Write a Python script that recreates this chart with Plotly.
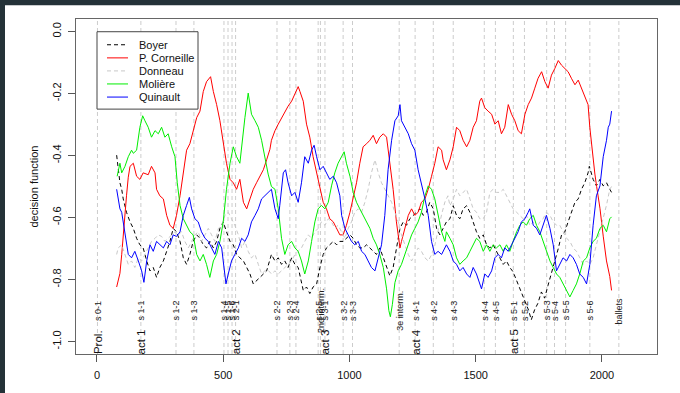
import plotly.graph_objects as go

# ---------------- data ----------------
boyer = [(78,-0.399),(84,-0.435),(91,-0.488),(98,-0.509),(104,-0.540),(117,-0.583),(131,-0.614),(144,-0.635),(157,-0.667),(170,-0.688),(183,-0.698),(197,-0.740),(210,-0.772),(223,-0.761),(236,-0.793),(249,-0.761),(263,-0.740),(276,-0.709),(289,-0.677),(302,-0.635),(315,-0.646),(329,-0.677),(342,-0.730),(355,-0.751),(368,-0.719),(381,-0.677),(395,-0.656),(408,-0.667),(421,-0.688),(434,-0.698),(447,-0.677),(461,-0.698),(474,-0.677),(487,-0.635),(500,-0.614),(513,-0.646),(527,-0.677),(540,-0.688),(553,-0.719),(566,-0.730),(580,-0.740),(593,-0.761),(606,-0.782),(619,-0.814),(632,-0.803),(645,-0.793),(659,-0.782),(672,-0.772),
         (691,-0.719),(705,-0.740),(718,-0.730),(731,-0.751),(744,-0.740),(757,-0.761),(771,-0.730),(784,-0.751),(797,-0.761),(810,-0.803),(817,-0.835),(830,-0.824),(843,-0.845),(856,-0.824),(870,-0.814),(883,-0.761),(896,-0.719),(909,-0.698),(922,-0.688),(936,-0.677),(949,-0.688),(962,-0.677),(975,-0.677),(988,-0.667),(1002,-0.656),(1015,-0.667),(1028,-0.688),(1041,-0.698),(1054,-0.698),(1068,-0.688),(1081,-0.698),(1094,-0.709),(1107,-0.719),(1120,-0.698),(1134,-0.730),(1147,-0.761),(1160,-0.788),(1173,-0.761),(1186,-0.698),(1200,-0.635),(1213,-0.614),(1226,-0.625),(1239,-0.604),(1252,-0.593),(1266,-0.583),(1279,-0.572),(1292,-0.593),(1305,-0.583),(1318,-0.551),(1332,-0.572),(1345,-0.635),(1358,-0.656),(1371,-0.635),
         (1384,-0.614),(1398,-0.604),(1411,-0.562),(1424,-0.593),(1437,-0.604),(1450,-0.572),(1464,-0.562),(1477,-0.583),(1490,-0.614),(1503,-0.646),(1516,-0.667),(1530,-0.656),(1543,-0.688),(1556,-0.698),(1569,-0.688),(1582,-0.709),(1596,-0.730),(1609,-0.751),(1622,-0.740),(1635,-0.761),(1648,-0.775),(1662,-0.805),(1675,-0.830),(1688,-0.856),(1700,-0.880),(1710,-0.900),(1720,-0.930),(1733,-0.898),(1746,-0.877),(1760,-0.840),(1773,-0.860),(1786,-0.820),(1800,-0.780),(1813,-0.740),(1827,-0.700),(1840,-0.656),(1853,-0.646),(1866,-0.614),(1879,-0.583),(1893,-0.551),(1906,-0.540),(1919,-0.509),(1932,-0.488),(1945,-0.456),(1950,-0.435),(1965,-0.477),(1978,-0.498),(1992,-0.477),(2005,-0.498),(2018,-0.488),(2031,-0.509),(2038,-0.519)]

corneille = [(78,-0.824),(84,-0.800),(91,-0.780),(98,-0.720),(104,-0.650),(111,-0.580),(117,-0.530),(124,-0.470),(131,-0.435),(144,-0.425),(157,-0.467),(170,-0.477),(183,-0.456),(203,-0.462),(216,-0.435),(230,-0.456),(236,-0.509),(249,-0.530),(263,-0.540),(276,-0.593),(289,-0.625),(302,-0.635),(315,-0.593),(329,-0.530),(342,-0.456),(355,-0.383),(368,-0.362),(381,-0.320),(395,-0.278),(408,-0.257),(421,-0.194),(434,-0.162),(450,-0.146),(461,-0.194),(474,-0.236),(487,-0.288),(500,-0.362),(513,-0.425),(527,-0.477),(540,-0.488),(553,-0.509),(566,-0.477),(580,-0.551),(593,-0.572),(606,-0.540),(619,-0.509),(632,-0.488),(645,-0.467),(659,-0.446),(672,-0.414),(685,-0.380),
             (691,-0.351),(705,-0.320),(718,-0.299),(731,-0.278),(744,-0.257),(757,-0.241),(771,-0.225),(784,-0.204),(797,-0.178),(804,-0.194),(817,-0.225),(830,-0.299),(843,-0.341),(856,-0.404),(870,-0.456),(883,-0.509),(896,-0.551),(909,-0.572),(922,-0.604),(936,-0.614),(949,-0.635),(962,-0.656),(975,-0.656),(988,-0.625),(1002,-0.583),(1015,-0.540),(1028,-0.488),(1041,-0.425),(1054,-0.372),(1068,-0.362),(1081,-0.351),(1094,-0.335),(1107,-0.362),(1120,-0.341),(1134,-0.330),(1147,-0.341),(1160,-0.425),(1173,-0.509),(1186,-0.614),(1200,-0.698),(1206,-0.677),(1219,-0.635),(1233,-0.593),(1246,-0.572),(1259,-0.593),(1272,-0.583),(1285,-0.551),(1299,-0.540),(1312,-0.509),(1325,-0.467),(1338,-0.425),(1351,-0.372),(1365,-0.383),
             (1371,-0.414),(1384,-0.446),(1398,-0.414),(1411,-0.372),(1424,-0.309),(1437,-0.320),(1450,-0.351),(1464,-0.372),(1477,-0.351),(1490,-0.309),(1503,-0.288),(1516,-0.225),(1523,-0.215),(1536,-0.246),(1549,-0.257),(1563,-0.267),(1576,-0.299),(1589,-0.288),(1602,-0.330),(1615,-0.309),(1629,-0.236),(1642,-0.267),(1655,-0.288),(1668,-0.320),(1681,-0.330),(1695,-0.267),(1708,-0.236),(1721,-0.215),(1734,-0.183),(1747,-0.151),(1761,-0.130),(1774,-0.162),(1787,-0.183),(1800,-0.141),(1813,-0.120),(1827,-0.094),(1840,-0.109),(1853,-0.120),(1866,-0.130),(1879,-0.151),(1893,-0.172),(1906,-0.157),(1919,-0.183),(1932,-0.204),(1945,-0.236),(1952,-0.310),(1959,-0.370),(1965,-0.410),(1972,-0.460),(1979,-0.500),(1992,-0.570),(2005,-0.660),(2018,-0.740),(2031,-0.790),(2038,-0.835)]

donneau = [(78,-0.719),(84,-0.698),(98,-0.688),(111,-0.719),(124,-0.751),(137,-0.740),(150,-0.761),(164,-0.730),(177,-0.740),(190,-0.719),(203,-0.698),(216,-0.677),(230,-0.667),(243,-0.656),(256,-0.661),(269,-0.677),(282,-0.667),(296,-0.656),(309,-0.646),(322,-0.656),(335,-0.646),(348,-0.677),(362,-0.698),(375,-0.677),(388,-0.656),(401,-0.646),(414,-0.677),(428,-0.656),(441,-0.635),(454,-0.656),(467,-0.677),(481,-0.635),(494,-0.625),(507,-0.593),(520,-0.583),(533,-0.604),(546,-0.625),(560,-0.656),(573,-0.698),(586,-0.677),(599,-0.709),(612,-0.730),(626,-0.719),(639,-0.751),(652,-0.782),(665,-0.772),(678,-0.770),
           (691,-0.782),(705,-0.772),(718,-0.782),(731,-0.772),(744,-0.761),(757,-0.751),(771,-0.740),(784,-0.719),(797,-0.709),(810,-0.698),(823,-0.677),(837,-0.656),(850,-0.667),(863,-0.646),(876,-0.635),(889,-0.614),(903,-0.625),(916,-0.604),(929,-0.614),(942,-0.635),(955,-0.625),(969,-0.646),(982,-0.667),(995,-0.635),(1008,-0.614),(1021,-0.583),(1035,-0.572),(1048,-0.583),(1061,-0.551),(1074,-0.509),(1087,-0.456),(1101,-0.414),(1114,-0.456),(1127,-0.488),(1140,-0.509),(1153,-0.530),(1167,-0.551),(1180,-0.583),(1193,-0.614),(1206,-0.656),(1219,-0.688),(1233,-0.719),(1246,-0.740),(1259,-0.719),(1272,-0.698),(1285,-0.709),(1299,-0.730),(1312,-0.740),(1325,-0.720),(1338,-0.690),(1351,-0.640),(1365,-0.590),(1378,-0.550),
           (1390,-0.530),(1398,-0.562),(1411,-0.540),(1424,-0.509),(1437,-0.530),(1450,-0.519),(1464,-0.509),(1477,-0.540),(1490,-0.572),(1503,-0.583),(1516,-0.604),(1530,-0.604),(1543,-0.583),(1556,-0.519),(1569,-0.509),(1582,-0.519),(1596,-0.519),(1609,-0.509),(1622,-0.530),(1635,-0.551),(1648,-0.572),(1662,-0.583),(1675,-0.593),(1688,-0.604),(1701,-0.593),(1714,-0.625),(1728,-0.614),(1741,-0.635),(1754,-0.614),(1767,-0.604),(1780,-0.583),(1794,-0.593),(1807,-0.614),(1820,-0.625),(1833,-0.625),(1846,-0.646),(1860,-0.667),(1873,-0.677),(1886,-0.698),(1899,-0.709),(1912,-0.730),(1926,-0.751),(1939,-0.740),(1952,-0.751),(1965,-0.730),(1978,-0.688),(1992,-0.646),(2005,-0.604),(2018,-0.560),(2031,-0.509),(2038,-0.500)]

moliere = [(80,-0.467),(91,-0.425),(98,-0.456),(111,-0.435),(124,-0.404),(137,-0.383),(144,-0.393),(157,-0.383),(170,-0.309),(181,-0.272),(190,-0.288),(203,-0.309),(216,-0.341),(230,-0.320),(243,-0.330),(256,-0.309),(269,-0.341),(282,-0.330),(296,-0.372),(309,-0.404),(318,-0.488),(329,-0.561),(342,-0.604),(355,-0.625),(368,-0.646),(381,-0.656),(395,-0.719),(408,-0.740),(421,-0.719),(434,-0.751),(447,-0.793),(461,-0.740),(474,-0.719),(487,-0.677),(500,-0.614),(513,-0.509),(527,-0.425),(540,-0.372),(553,-0.404),(566,-0.425),(573,-0.372),(586,-0.278),(599,-0.199),(612,-0.267),(626,-0.288),(639,-0.309),(652,-0.351),(665,-0.404),(678,-0.460),
           (691,-0.500),(705,-0.509),(718,-0.572),(731,-0.667),(744,-0.719),(757,-0.688),(771,-0.677),(784,-0.698),(797,-0.709),(810,-0.740),(823,-0.782),(837,-0.740),(850,-0.677),(863,-0.614),(876,-0.572),(889,-0.561),(903,-0.572),(916,-0.551),(929,-0.498),(942,-0.456),(955,-0.425),(969,-0.404),(979,-0.388),(988,-0.425),(1002,-0.467),(1015,-0.519),(1028,-0.551),(1041,-0.572),(1054,-0.593),(1068,-0.614),(1081,-0.635),(1094,-0.667),(1107,-0.688),(1120,-0.719),(1134,-0.761),(1147,-0.830),(1156,-0.900),(1162,-0.920),(1170,-0.880),(1180,-0.810),(1193,-0.772),(1206,-0.751),(1219,-0.719),(1233,-0.688),(1246,-0.656),(1259,-0.635),(1272,-0.614),(1285,-0.583),(1299,-0.530),(1312,-0.498),(1325,-0.509),(1338,-0.540),(1351,-0.593),(1365,-0.646),(1378,-0.677),
           (1384,-0.646),(1398,-0.667),(1411,-0.688),(1424,-0.730),(1437,-0.751),(1450,-0.740),(1464,-0.730),(1477,-0.709),(1490,-0.688),(1503,-0.667),(1516,-0.677),(1530,-0.709),(1543,-0.688),(1556,-0.709),(1569,-0.688),(1582,-0.698),(1596,-0.688),(1609,-0.709),(1622,-0.688),(1635,-0.709),(1648,-0.677),(1662,-0.646),(1675,-0.625),(1688,-0.614),(1701,-0.625),(1714,-0.604),(1728,-0.593),(1741,-0.625),(1754,-0.646),(1767,-0.677),(1780,-0.709),(1794,-0.740),(1807,-0.761),(1820,-0.782),(1833,-0.793),(1846,-0.814),(1860,-0.835),(1873,-0.856),(1886,-0.835),(1899,-0.814),(1912,-0.782),(1926,-0.740),(1939,-0.730),(1952,-0.698),(1965,-0.677),(1978,-0.667),(1992,-0.635),(2005,-0.625),(2018,-0.646),(2031,-0.604),(2038,-0.598)]

quinault = [(78,-0.509),(84,-0.540),(91,-0.572),(98,-0.583),(104,-0.614),(111,-0.656),(117,-0.677),(124,-0.719),(137,-0.730),(150,-0.709),(164,-0.740),(177,-0.772),(186,-0.809),(197,-0.740),(210,-0.688),(223,-0.709),(236,-0.677),(249,-0.688),(263,-0.698),(276,-0.677),(289,-0.688),(302,-0.656),(315,-0.661),(329,-0.646),(342,-0.593),(355,-0.561),(366,-0.535),(375,-0.572),(388,-0.604),(401,-0.614),(414,-0.646),(428,-0.667),(441,-0.677),(454,-0.698),(467,-0.719),(481,-0.677),(494,-0.698),(500,-0.740),(511,-0.814),(520,-0.782),(533,-0.740),(546,-0.719),(560,-0.698),(573,-0.667),(586,-0.677),(599,-0.656),(612,-0.614),(626,-0.593),(639,-0.572),(652,-0.540),(665,-0.530),(678,-0.519),
            (691,-0.509),(705,-0.572),(718,-0.604),(724,-0.561),(738,-0.456),(747,-0.446),(757,-0.488),(771,-0.530),(784,-0.519),(797,-0.551),(810,-0.488),(823,-0.404),(837,-0.425),(850,-0.383),(860,-0.367),(870,-0.404),(883,-0.446),(896,-0.435),(909,-0.456),(922,-0.477),(936,-0.467),(949,-0.488),(962,-0.530),(969,-0.593),(982,-0.635),(995,-0.656),(1008,-0.677),(1021,-0.688),(1035,-0.677),(1048,-0.709),(1061,-0.719),(1074,-0.740),(1087,-0.761),(1101,-0.772),(1114,-0.730),(1127,-0.688),(1140,-0.593),(1153,-0.446),(1167,-0.351),(1180,-0.288),(1193,-0.272),(1200,-0.236),(1206,-0.288),(1219,-0.309),(1233,-0.330),(1246,-0.362),(1259,-0.383),(1272,-0.446),(1285,-0.488),(1299,-0.540),(1312,-0.593),(1325,-0.677),(1338,-0.719),(1351,-0.709),(1365,-0.719),(1378,-0.698),
            (1384,-0.688),(1398,-0.709),(1411,-0.740),(1424,-0.751),(1437,-0.772),(1450,-0.761),(1464,-0.782),(1477,-0.793),(1490,-0.761),(1503,-0.782),(1516,-0.814),(1523,-0.830),(1536,-0.782),(1549,-0.793),(1563,-0.772),(1576,-0.730),(1589,-0.719),(1602,-0.730),(1615,-0.698),(1629,-0.709),(1642,-0.688),(1655,-0.667),(1668,-0.646),(1681,-0.614),(1695,-0.604),(1708,-0.583),(1714,-0.572),(1728,-0.625),(1741,-0.635),(1754,-0.656),(1767,-0.625),(1780,-0.593),(1794,-0.635),(1807,-0.688),(1820,-0.772),(1833,-0.751),(1846,-0.730),(1860,-0.740),(1873,-0.719),(1886,-0.730),(1899,-0.751),(1912,-0.782),(1926,-0.793),(1939,-0.814),(1952,-0.751),(1965,-0.625),(1978,-0.530),(1992,-0.498),(2005,-0.404),(2018,-0.351),(2025,-0.309),(2031,-0.299),(2038,-0.257)]

series_names = ["Boyer", "P. Corneille", "Donneau", "Molière", "Quinault"]

scene_labels = ["s 0-1", "s 1-1", "s 1-2", "s 1-3", "s 1-4", "s 1-5", "s 1-6", "s 2-1", "s 2-2", "s 2-3",
                "s 2-4", "s 2-5", "2nd interm.", "s 3-1", "s 3-2", "s 3-3", "3e interm.", "s 4-1", "s 4-2",
                "s 4-3", "s 4-4", "s 4-5", "s 5-1", "s 5-2", "s 5-3", "s 5-4", "s 5-5", "s 5-6", "ballets"]
scene_x = [2, 174, 313, 384, 503, 519, 535, 549, 713, 764, 788, 876, 885, 903, 975, 1012, 1197, 1260, 1332,
           1411, 1534, 1578, 1649, 1693, 1781, 1812, 1856, 1952, 2067]

act_labels = ["Prol.", "act 1", "act 2", "act 3", "act 4", "act 5"]
act_x = [2, 174, 549, 903, 1260, 1649]

x_tick_vals = [0, 500, 1000, 1500, 2000]
x_tick_text = ["0", "500", "1000", "1500", "2000"]
y_tick_vals = [0.0, -0.2, -0.4, -0.6, -0.8, -1.0]
y_tick_text = ["0.0", "-0.2", "-0.4", "-0.6", "-0.8", "-1.0"]

# ---------------- styling ----------------
styles = [dict(color="#000000", dash="4px,3px"),
          dict(color="#ff0000", dash="solid"),
          dict(color="#c8c8c8", dash="4px,3px"),
          dict(color="#00ee00", dash="solid"),
          dict(color="#0000ff", dash="solid")]

FONT = "Liberation Sans, Arial, Helvetica, sans-serif"
W, H = 680, 393
ML, MR, MT, MB = 76, 23, 19, 32
PW, PH = W - ML - MR, H - MT - MB


def px_to_paper_x(px):
    return (px - ML) / PW


def px_to_paper_y(py):
    return (H - MB - py) / PH


fig = go.Figure()

for name, pts, st in zip(series_names, [boyer, corneille, donneau, moliere, quinault], styles):
    fig.add_trace(go.Scatter(
        x=[p[0] for p in pts], y=[p[1] for p in pts], mode="lines", name=name,
        line=dict(color=st["color"], width=1, dash=st["dash"]), showlegend=False,
        hoverinfo="skip"))

shapes = []
# white page area (dark band at top and left)
shapes.append(dict(type="rect", xref="paper", yref="paper", x0=px_to_paper_x(5), x1=1.2,
                   y0=-0.3, y1=px_to_paper_y(5), fillcolor="white", line=dict(width=0), layer="below"))
# scene separators
for sx in scene_x:
    shapes.append(dict(type="line", xref="x", yref="paper", x0=sx, x1=sx, y0=0, y1=1,
                       line=dict(color="#cccccc", width=1, dash="4px,3px"), layer="below"))

annotations = []
for lab, sx in zip(scene_labels, scene_x):
    annotations.append(dict(x=sx, y=-0.9, xref="x", yref="y", text=lab, showarrow=False,
                            textangle=-90, xanchor="center", yanchor="middle",
                            font=dict(size=9, color="#222", family=FONT)))
for lab, ax in zip(act_labels, act_x):
    annotations.append(dict(x=ax, y=-1.0, xref="x", yref="y", text=lab, showarrow=False,
                            textangle=-90, xanchor="center", yanchor="middle",
                            font=dict(size=11.5, color="#111", family=FONT)))

# y-axis title
annotations.append(dict(x=px_to_paper_x(33), y=0.5, xref="paper", yref="paper", text="decision function",
                        showarrow=False, textangle=-90, xanchor="center", yanchor="middle",
                        font=dict(size=11, color="#111", family=FONT)))

# legend (drawn manually to match the compact R legend)
shapes.append(dict(type="rect", xref="paper", yref="paper",
                   x0=px_to_paper_x(97), x1=px_to_paper_x(198),
                   y0=px_to_paper_y(111), y1=px_to_paper_y(32),
                   fillcolor="white", line=dict(color="#444", width=1), layer="above"))
row_py = [45.3, 58.7, 72.0, 85.3, 98.7]
for name, st, py in zip(series_names, styles, row_py):
    yy = px_to_paper_y(py)
    shapes.append(dict(type="line", xref="paper", yref="paper",
                       x0=px_to_paper_x(107), x1=px_to_paper_x(128), y0=yy, y1=yy,
                       line=dict(color=st["color"], width=1, dash=st["dash"]), layer="above"))
    annotations.append(dict(x=px_to_paper_x(137), y=yy, xref="paper", yref="paper", text=name,
                            showarrow=False, xanchor="left", yanchor="middle",
                            font=dict(size=11, color="#111", family=FONT)))

fig.update_layout(
    width=W, height=H,
    margin=dict(l=ML, r=MR, t=MT, b=MB, pad=0),
    paper_bgcolor="#243238", plot_bgcolor="white",
    font=dict(family=FONT, size=11, color="#111"),
    shapes=shapes, annotations=annotations, showlegend=False,
)
fig.update_xaxes(range=[-83, 2218], tickvals=x_tick_vals, ticktext=x_tick_text,
                 ticks="outside", ticklen=7, tickcolor="#555", tickwidth=1,
                 showline=True, linecolor="#666", linewidth=1, mirror=True,
                 showgrid=False, zeroline=False, ticklabelstandoff=4,
                 tickfont=dict(size=11, color="#111", family=FONT))
fig.update_yaxes(range=[-1.04, 0.04], tickvals=y_tick_vals, ticktext=y_tick_text,
                 tickangle=-90, ticks="outside", ticklen=7, tickcolor="#555", tickwidth=1,
                 showline=True, linecolor="#666", linewidth=1, mirror=True,
                 showgrid=False, zeroline=False, ticklabelstandoff=3,
                 tickfont=dict(size=11, color="#111", family=FONT))

fig.write_html("out.html",
               config={"displayModeBar": False, "staticPlot": True},
               post_script="document.body.style.margin='0';document.body.style.padding='0';"
                           "document.documentElement.style.overflow='hidden';")
